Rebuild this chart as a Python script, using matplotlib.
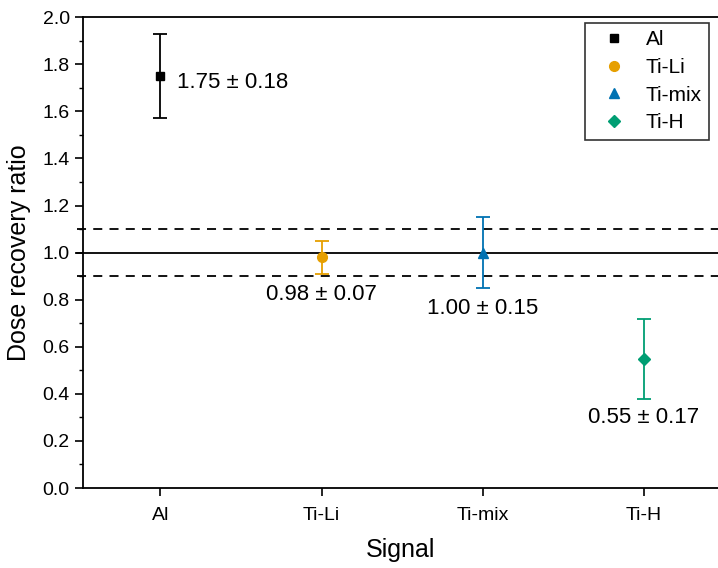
import matplotlib
matplotlib.use('Agg')
import matplotlib.pyplot as plt
from matplotlib.ticker import MultipleLocator
from matplotlib.lines import Line2D

plt.rcParams['font.family'] = ['Liberation Sans', 'DejaVu Sans']

# data
signals = ['Al', 'Ti-Li', 'Ti-mix', 'Ti-H']
ratio = [1.75, 0.98, 1.00, 0.55]
err = [0.18, 0.07, 0.15, 0.17]
colors = ['black', '#E69F00', '#0072B2', '#009E73']
markers = ['s', 'o', '^', 'D']
msizes = [6, 7, 7, 6]

fig = plt.figure(figsize=(7.18, 5.68), dpi=100)
ax = fig.add_axes([0.1156, 0.1408, 0.8844, 0.829])

xpos = list(range(1, len(signals) + 1))
x0, x1 = 0.52, 4.46

# reference lines (start a bit left of the spine, like the original)
ax.plot([x0 - 0.04, x1], [1.0, 1.0], color='black', lw=1.3, zorder=1, clip_on=False)
ax.plot([x0 - 0.04, x1], [1.1, 1.1], color='black', lw=1.3, ls=(0, (5, 4)), zorder=1, clip_on=False)
ax.plot([x0 - 0.04, x1], [0.9, 0.9], color='black', lw=1.3, ls=(0, (5, 4)), zorder=1, clip_on=False)

for i in range(len(signals)):
    ax.errorbar(xpos[i], ratio[i], yerr=err[i], color=colors[i], marker=markers[i],
                markersize=msizes[i], capsize=5, elinewidth=1.3, capthick=1.3,
                ls='none', zorder=3)

# value labels
lab = ['%.2f \u00b1 %.2f' % (r, e) for r, e in zip(ratio, err)]
ax.text(xpos[0] + 0.105, 1.724, lab[0], fontsize=16, ha='left', va='center')
ax.text(xpos[1], 0.824, lab[1], fontsize=16, ha='center', va='center')
ax.text(xpos[2], 0.764, lab[2], fontsize=16, ha='center', va='center')
ax.text(xpos[3], 0.30, lab[3], fontsize=16, ha='center', va='center')

ax.set_xlim(x0, x1)
ax.set_ylim(0, 2.0)
ax.set_xticks(xpos)
ax.set_xticklabels(signals)
ax.yaxis.set_major_locator(MultipleLocator(0.2))
ax.yaxis.set_minor_locator(MultipleLocator(0.1))
ax.tick_params(axis='both', which='major', direction='out', length=6, width=1.2,
               labelsize=14)
ax.tick_params(axis='y', which='minor', direction='out', length=3, width=1.0)
ax.tick_params(axis='x', pad=8)
for s in ['left', 'bottom', 'top']:
    ax.spines[s].set_linewidth(1.3)
ax.spines['right'].set_visible(False)

ax.set_xlabel('Signal', fontsize=18, labelpad=10)
ax.set_ylabel('Dose recovery ratio', fontsize=18, labelpad=8)

handles = [Line2D([], [], color=colors[i], marker=markers[i], markersize=msizes[i],
                  ls='none') for i in range(len(signals))]
leg = ax.legend(handles, signals, loc='upper right', bbox_to_anchor=(0.986, 0.988),
                fontsize=15, frameon=True, fancybox=False, edgecolor='black',
                handletextpad=0.45, borderpad=0.35, labelspacing=0.42,
                handlelength=2.1, borderaxespad=0)
leg.get_frame().set_linewidth(1.2)

fig.savefig('out.png', dpi=100)
